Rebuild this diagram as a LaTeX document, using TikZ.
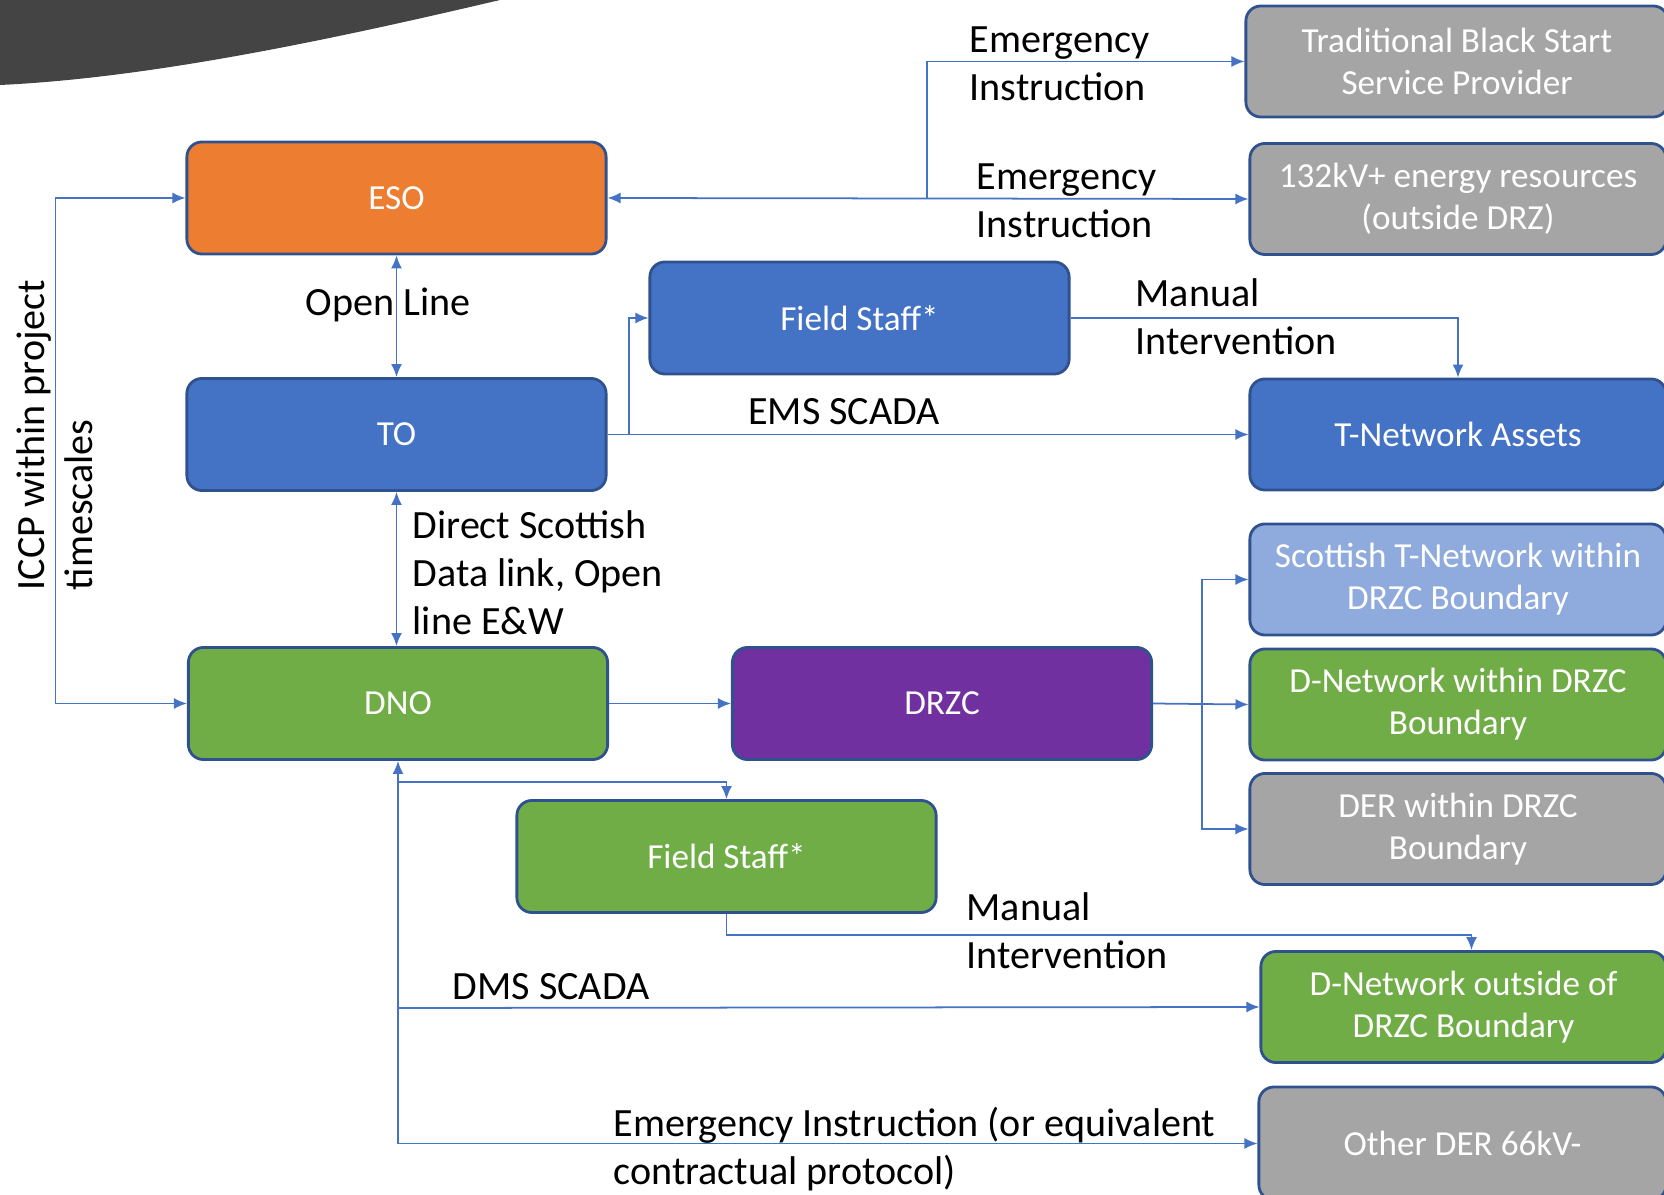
\documentclass[tikz,border=0pt]{standalone}
\usepackage{fontspec}
\setmainfont{Carlito}
\usetikzlibrary{arrows.meta, positioning, calc}

\definecolor{esoorange}{HTML}{ED7D31}
\definecolor{toblue}{HTML}{4472C4}
\definecolor{dnogreen}{HTML}{70AD47}
\definecolor{drzcpurple}{HTML}{7030A0}
\definecolor{dergray}{HTML}{A5A5A5}
\definecolor{scotblue}{HTML}{8FAADC}
\definecolor{boxedge}{HTML}{2F528F}
\definecolor{linkblue}{HTML}{4472C4}
\definecolor{cornergray}{HTML}{444444}

\tikzstyle{box} = [rectangle, draw=boxedge, line width=0.8pt, rounded corners=1.5mm, text=white, font=\fontsize{10}{12}\selectfont, align=center, inner sep=0pt]
\tikzstyle{mainbox} = [box, minimum width=4.19cm, minimum height=1.12cm]
\tikzstyle{sidebox} = [box, minimum width=4.16cm, minimum height=1.11cm]
\tikzstyle{link} = [draw=linkblue, line width=0.5pt, >={Latex[length=1.3mm,width=1.1mm]}]
\tikzstyle{lbl} = [font=\fontsize{11.4}{13.7}\selectfont, align=left, inner sep=0pt]

\begin{document}
\begin{tikzpicture}[x=0.01cm, y=-0.01cm]
        \useasboundingbox (0,0) rectangle (1664,1195);

        % Corner shape
        \fill[cornergray] (0,0) -- (0,85) .. controls (150,78) and (330,40) .. (500,0) -- cycle;

        % Left column
        \node[mainbox, fill=esoorange] (eso) at (396.5,198) {ESO};
        \node[mainbox, fill=toblue] (to) at (396.5,434.5) {TO};
        \node[mainbox, fill=dnogreen] (dno) at (398,703.5) {DNO};

        % Middle boxes
        \node[mainbox, fill=toblue] (tstaff) at (859.5,318) {Field Staff*};
        \node[mainbox, fill=drzcpurple] (drzc) at (942,703.5) {DRZC};
        \node[mainbox, fill=dnogreen] (dstaff) at (726.5,856.5) {Field Staff*};

        % Right column
        \node[sidebox, fill=dergray, minimum width=4.22cm] (blackstart) at (1457,61.5) {Traditional Black Start\\Service Provider};
        \node[sidebox, fill=dergray] (kv132) at (1458,199) {132kV+ energy resources\\(outside DRZ)};
        \node[sidebox, fill=toblue] (tassets) at (1458,434.5) {T-Network Assets};
        \node[sidebox, fill=scotblue] (scot) at (1458,579.5) {Scottish T-Network within\\DRZC Boundary};
        \node[sidebox, fill=dnogreen] (dwithin) at (1458,704.5) {D-Network within DRZC\\Boundary};
        \node[sidebox, fill=dergray] (der) at (1458,829) {DER within DRZC\\Boundary};
        \node[sidebox, fill=dnogreen, minimum width=4.05cm] (doutside) at (1463.5,1007) {D-Network outside of\\DRZC Boundary};
        \node[sidebox, fill=dergray, minimum width=4.07cm, minimum height=1.13cm] (otherder) at (1462.5,1143.5) {Other DER 66kV-};

        % ESO links
        \draw[link, <->] (eso.south) -- (to.north);
        \node[lbl] (openlbl) at (388,305) {Open Line};
        \coordinate (esojoin) at (927,198);
        \draw[link, <->] (eso.east) -- (kv132.west);
        \draw[link, ->] (esojoin) |- (blackstart.west);
        \node[lbl, anchor=west] (emlbla) at (969,63.5) {Emergency\\Instruction};
        \node[lbl, anchor=west] (emlblb) at (976,201) {Emergency\\Instruction};
        \draw[link, <->] (eso.west) -- ++(-130,0) |- (dno.west);
        \node[lbl, rotate=90, anchor=west] (iccplbl) at (55,591) {ICCP within project\\timescales};

        % TO links
        \draw[link, <->] (to.south) -- (to.south |- dno.north);
        \node[lbl, anchor=west] (directlbl) at (412,573) {Direct Scottish\\Data link, Open\\line E\&W};
        \draw[link, ->] (to.east) -- (tassets.west);
        \coordinate (tojoin) at (629,434.5);
        \draw[link, ->] (tojoin) |- (tstaff.west);
        \node[lbl] (emslbl) at (844,412) {EMS SCADA};
        \draw[link, ->] (tstaff.east) -| (tassets.north);
        \node[lbl, anchor=west] (manlbla) at (1135,317) {Manual\\Intervention};

        % DNO and DRZC links
        \draw[link, ->] (dno.east) -- (drzc.west);
        \coordinate (drzcjoin) at (1202,704);
        \draw[link, ->] (drzc.east) -- (dwithin.west);
        \draw[link, ->] (drzcjoin) |- (scot.west);
        \draw[link, ->] (drzcjoin) |- (der.west);

        \draw[link, <->] (dno.south) |- (otherder.west);
        \coordinate (staffjoin) at (398,782);
        \draw[link, ->] (staffjoin) -| (dstaff.north);
        \coordinate (scadajoin) at (398,1008);
        \draw[link, ->] (scadajoin) -- (doutside.west);
        \node[lbl] (dmslbl) at (551,987) {DMS SCADA};
        \draw[link, ->] (dstaff.south) -- ++(0,21) -| ([xshift=0.08cm]doutside.north);
        \node[lbl, anchor=west] (manlblb) at (966,931) {Manual\\Intervention};
        \node[lbl, anchor=west] (emlblc) at (613,1149) {Emergency Instruction (or equivalent\\contractual protocol)};

    \end{tikzpicture}
\end{document}
